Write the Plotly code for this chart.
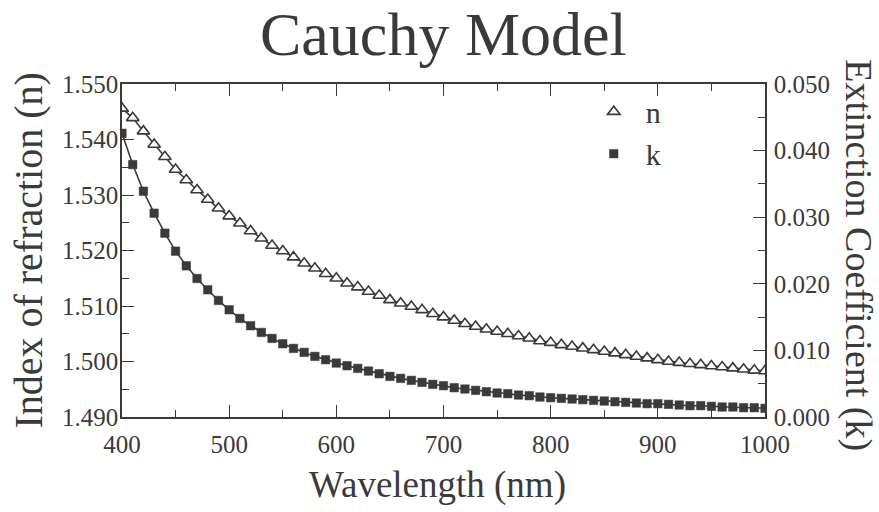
import plotly.graph_objects as go

wavelength = list(range(400, 1001, 10))

n_values = [
    1.5456, 1.5439, 1.5415, 1.5391, 1.5369, 1.5346, 1.5327, 1.5309, 1.5292, 1.5276,
    1.5262, 1.5249, 1.5235, 1.5222, 1.5209, 1.5199, 1.5188, 1.5177, 1.5168, 1.5158,
    1.5150, 1.5141, 1.5134, 1.5126, 1.5119, 1.5111, 1.5105, 1.5099, 1.5093, 1.5086,
    1.5080, 1.5074, 1.5068, 1.5063, 1.5058, 1.5054, 1.5050, 1.5046, 1.5042, 1.5037,
    1.5034, 1.5030, 1.5027, 1.5024, 1.5021, 1.5018, 1.5015, 1.5012, 1.5009, 1.5006,
    1.5003, 1.5000, 1.4998, 1.4996, 1.4994, 1.4992, 1.4990, 1.4988, 1.4986, 1.4984,
    1.4983,
]

k_values = [
    0.0426, 0.0379, 0.0339, 0.0306, 0.0276, 0.0249, 0.0227, 0.0208, 0.0191, 0.0175,
    0.0161, 0.0148, 0.0137, 0.0127, 0.0118, 0.0110, 0.0103, 0.0097, 0.0091, 0.0086,
    0.0081, 0.0077, 0.0073, 0.0069, 0.0065, 0.0061, 0.0058, 0.0055, 0.0052, 0.0049,
    0.0047, 0.0044, 0.0042, 0.0040, 0.0038, 0.0036, 0.0035, 0.0033, 0.0032, 0.0030,
    0.0029, 0.0028, 0.0027, 0.0026, 0.0025, 0.0024, 0.0023, 0.0022, 0.0021, 0.0020,
    0.0020, 0.0019, 0.0018, 0.0017, 0.0017, 0.0016, 0.0015, 0.0015, 0.0014, 0.0014,
    0.0013,
]

title_text = "Cauchy Model"
x_title = "Wavelength (nm)"
y_title = "Index of refraction (n)"
y2_title = "Extinction Coefficient (k)"
legend_names = ["n", "k"]

INK = "#3a3a3a"
FONT = "'Liberation Serif', 'Times New Roman', Times, serif"

fig = go.Figure()
fig.add_trace(go.Scatter(x=wavelength, y=n_values, mode="lines",
                         line=dict(color=INK, width=1.6), showlegend=False, hoverinfo="skip"))
fig.add_trace(go.Scatter(x=wavelength, y=n_values, mode="markers", name=legend_names[0],
                         marker=dict(symbol="triangle-up", size=11, color="white",
                                     line=dict(color=INK, width=1.6))))
fig.add_trace(go.Scatter(x=wavelength, y=k_values, mode="lines", yaxis="y2",
                         line=dict(color=INK, width=1.6), showlegend=False, hoverinfo="skip"))
fig.add_trace(go.Scatter(x=wavelength, y=k_values, mode="markers", name=legend_names[1], yaxis="y2",
                         marker=dict(symbol="square", size=8.5, color=INK,
                                     line=dict(color=INK, width=0.5))))

axis_common = dict(showgrid=False, zeroline=False, showline=True, linecolor=INK, linewidth=1.6,
                   ticks="inside", tickcolor=INK, tickwidth=1.4, ticklen=12,
                   tickfont=dict(family=FONT, size=25, color=INK))

fig.update_layout(
    width=879, height=512,
    margin=dict(l=122, r=114, t=84, b=95),
    paper_bgcolor="white", plot_bgcolor="white",
    font=dict(family=FONT, color=INK),
    xaxis=dict(range=[400, 1000], dtick=100, mirror="ticks",
               minor=dict(dtick=50, ticks="inside", ticklen=7, tickcolor=INK, tickwidth=1.2),
               ticklabelstandoff=4, **axis_common),
    yaxis=dict(range=[1.49, 1.55], dtick=0.01, tickformat=".3f",
               minor=dict(dtick=0.005, ticks="inside", ticklen=7, tickcolor=INK, tickwidth=1.2),
               ticklabelstandoff=-3, **axis_common),
    yaxis2=dict(range=[0, 0.05], dtick=0.01, tickformat=".3f", overlaying="y", side="right",
                minor=dict(dtick=0.005, ticks="inside", ticklen=7, tickcolor=INK, tickwidth=1.2),
                ticklabelstandoff=2, **axis_common),
    legend=dict(x=0.715, y=0.995, xanchor="left", yanchor="top", bgcolor="rgba(0,0,0,0)",
                font=dict(family=FONT, size=30, color=INK), tracegroupgap=0, itemwidth=54),
    showlegend=True,
    annotations=[
        dict(text=title_text, x=0.5, y=1.15, xref="paper", yref="paper", showarrow=False,
             font=dict(family=FONT, size=62, color=INK), xanchor="center", yanchor="middle"),
        dict(text=x_title, x=0.49, y=-0.205, xref="paper", yref="paper", showarrow=False,
             font=dict(family=FONT, size=37, color=INK), xanchor="center", yanchor="middle"),
        dict(text=y_title, x=-0.146, y=0.5, xref="paper", yref="paper", showarrow=False,
             textangle=-90, font=dict(family=FONT, size=40, color=INK),
             xanchor="center", yanchor="middle"),
        dict(text=y2_title, x=1.145, y=0.485, xref="paper", yref="paper", showarrow=False,
             textangle=90, font=dict(family=FONT, size=38, color=INK),
             xanchor="center", yanchor="middle"),
    ],
)

fig.write_html("out.html")
